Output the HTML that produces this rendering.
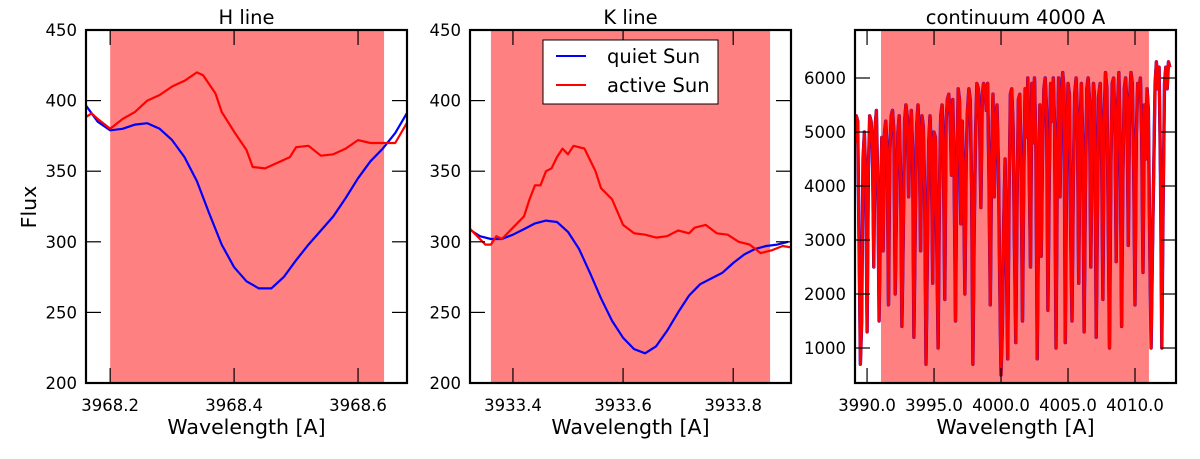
<!DOCTYPE html>
<html><head><meta charset="utf-8"><style>
body{margin:0;background:#fff;width:1200px;height:454px;overflow:hidden}
svg text{font-family:"DejaVu Sans","Liberation Sans",sans-serif;fill:#000}
</style></head><body>
<svg id="c" width="1200" height="454"></svg>
<script>
// H line data
const hQuietW=[3968.16,3968.18,3968.20,3968.22,3968.24,3968.26,3968.28,3968.30,3968.32,3968.34,3968.36,3968.38,3968.40,3968.42,3968.44,3968.46,3968.48,3968.50,3968.52,3968.54,3968.56,3968.58,3968.60,3968.62,3968.64,3968.66,3968.68];
const hQuietF=[397,385,379,380,383,384,380,372,360,343,320,298,282,272,267,267,275,287,298,308,318,331,345,357,366,377,392];
const hActiveW=[3968.16,3968.17,3968.18,3968.20,3968.22,3968.24,3968.26,3968.28,3968.30,3968.32,3968.34,3968.35,3968.37,3968.38,3968.40,3968.42,3968.43,3968.45,3968.47,3968.49,3968.50,3968.52,3968.54,3968.56,3968.58,3968.60,3968.62,3968.64,3968.66,3968.68];
const hActiveF=[388,391,387,380,387,392,400,404,410,414,420,418,405,392,378,365,353,352,356,360,367,368,361,362,366,372,370,370,370,385];
// K line data
const kQuietW=[3933.32,3933.34,3933.36,3933.38,3933.40,3933.42,3933.44,3933.46,3933.48,3933.50,3933.52,3933.54,3933.56,3933.58,3933.60,3933.62,3933.64,3933.66,3933.68,3933.70,3933.72,3933.74,3933.76,3933.78,3933.80,3933.82,3933.84,3933.86,3933.88,3933.90];
const kQuietF=[309,304,302,302,305,309,313,315,314,307,295,278,260,244,232,224,221,226,237,250,262,270,274,278,285,291,295,297,298,300];
const kActiveW=[3933.32,3933.33,3933.35,3933.36,3933.37,3933.38,3933.40,3933.42,3933.43,3933.44,3933.45,3933.46,3933.47,3933.48,3933.49,3933.50,3933.51,3933.53,3933.55,3933.56,3933.58,3933.60,3933.62,3933.64,3933.66,3933.68,3933.70,3933.72,3933.73,3933.75,3933.77,3933.79,3933.81,3933.83,3933.85,3933.87,3933.89,3933.905];
const kActiveF=[310,306,298,298,304,302,310,318,330,340,340,350,352,360,366,362,368,366,350,338,330,312,306,305,303,304,308,306,310,312,306,305,300,298,292,294,297,296];
// continuum data (grid start/step)
const contStart=3989.1, contStep=0.1;
const contFlux=[4800,5300,5200,3000,700,1500,4500,5000,4200,1300,4300,5300,5200,4700,2500,5100,5400,4000,1500,3500,4900,2800,5000,5200,4600,1800,4600,5300,5400,5000,2000,3600,5000,5300,4200,1400,3000,5200,5500,5300,3800,4900,5400,4700,1200,3300,5100,5500,4900,2800,5300,5100,3900,700,2600,4800,5300,4600,2200,5000,4900,3100,1000,3800,5300,5500,4500,1900,5200,5600,5700,5300,4200,5600,4300,1500,4200,5800,5600,3300,5200,4100,2000,4500,5400,5800,5600,4000,700,3200,5000,5900,5800,5200,3600,5700,5900,5800,5400,5900,4100,1800,4600,5700,3800,5200,5500,4400,2300,500,1400,3300,4500,2600,800,3900,5700,5800,5100,3000,1100,3800,5600,5700,4400,1500,4200,5800,4900,6000,4300,2500,5900,4800,6000,4700,800,3300,5500,2700,4700,5800,6000,5400,1700,4200,5900,5200,6000,5100,1000,4300,6000,3800,5600,6100,
5800,1100,4600,5900,5700,3100,1500,4200,5700,6000,5300,2200,5100,5900,4800,1300,3900,5800,6000,5600,2500,4700,5900,5600,1200,3600,5700,5900,4900,1900,5300,6100,5800,3400,1000,4400,5900,6000,5200,2600,5500,6100,4700,1400,4200,5800,6000,5500,2900,5600,6100,5900,4300,1800,4900,5900,5800,6000,4900,2400,
5500,4500,5800,5400,3000,1000,2700,4400,5900,6300,5800,6200,4200,1000,3600,5900,6200,5800,6300,6200];
const hTicks=["3968.2","3968.4","3968.6"], kTicks=["3933.4","3933.6","3933.8"], cTicks=["3990.0","3995.0","4000.0","4005.0","4010.0"];
const fluxTicks=[200,250,300,350,400,450], contYTicks=[1000,2000,3000,4000,5000,6000];

const NS="http://www.w3.org/2000/svg", svg=document.getElementById('c');
function mk(t,a,p){const e=document.createElementNS(NS,t);for(const k in a)e.setAttribute(k,a[k]);(p||svg).appendChild(e);return e;}
function panel(o){
  const g=mk('g',{});
  
  
  const X=v=>o.L+(v-o.x0)/(o.x1-o.x0)*(o.R-o.L), Y=v=>o.B-(v-o.y0)/(o.y1-o.y0)*(o.B-o.T);
  const sh=mk('rect',{x:X(o.s0),y:o.T,width:X(o.s1)-X(o.s0),height:o.B-o.T,fill:'#ff8080'},g);
  
  
  const cp=mk('clipPath',{id:'cp'+o.name},g);
  mk('rect',{x:o.L,y:o.T,width:o.R-o.L,height:o.B-o.T},cp);
  const line=(W,F,col,nm,w)=>{const p=mk('polyline',{points:W.map((x,i)=>X(x).toFixed(1)+','+Y(F[i]).toFixed(1)).join(' '),fill:'none',stroke:col,'stroke-width':w||2.2,'stroke-linejoin':'round','clip-path':'url(#cp'+o.name+')'},g);
    
    };
  o.series.forEach(s=>line(s[0],s[1],s[2],s[3],s[4]));
  o.xt.forEach(t=>{const x=X(parseFloat(t));
    mk('line',{x1:x,x2:x,y1:o.B,y2:o.B-15,stroke:'#000','stroke-width':1.2},g);
    mk('line',{x1:x,x2:x,y1:o.T,y2:o.T+15,stroke:'#000','stroke-width':1.2},g);
    const tx=mk('text',{x:x,y:o.B+28,'text-anchor':'middle','font-size':16.5},g);tx.textContent=t;
    
    });
  o.yt.forEach(v=>{const y=Y(v);
    mk('line',{x1:o.L,x2:o.L+15,y1:y,y2:y,stroke:'#000','stroke-width':1.2},g);
    mk('line',{x1:o.R,x2:o.R-15,y1:y,y2:y,stroke:'#000','stroke-width':1.2},g);
    const tx=mk('text',{x:o.L-9,y:y+6,'text-anchor':'end','font-size':16.5},g);tx.textContent=v;
    
    });
  mk('rect',{x:o.L,y:o.T,width:o.R-o.L,height:o.B-o.T,fill:'none',stroke:'#000','stroke-width':2.2},g);
  const ti=mk('text',{x:(o.L+o.R)/2,y:24,'text-anchor':'middle','font-size':19.5},g);ti.textContent=o.title;
  
  
  const xl=mk('text',{x:(o.L+o.R)/2,y:434,'text-anchor':'middle','font-size':20.5},g);xl.textContent='Wavelength [A]';
  
  
}
panel({name:'h-line-panel',title:'H line',L:86,R:407,T:30,B:383,x0:3968.161,x1:3968.679,y0:200,y1:450,s0:3968.2,s1:3968.642,
  xt:hTicks,yt:fluxTicks,series:[[hQuietW,hQuietF,'#0000ff','quiet-sun-line-h'],[hActiveW,hActiveF,'#ff0000','active-sun-line-h']]});
panel({name:'k-line-panel',title:'K line',L:470,R:791,T:30,B:383,x0:3933.322,x1:3933.905,y0:200,y1:450,s0:3933.36,s1:3933.867,
  xt:kTicks,yt:fluxTicks,series:[[kQuietW,kQuietF,'#0000ff','quiet-sun-line-k'],[kActiveW,kActiveF,'#ff0000','active-sun-line-k']]});
const contW=contFlux.map((_,i)=>contStart+i*contStep);
panel({name:'continuum-panel',title:'continuum 4000 A',L:855,R:1176,T:30,B:383,x0:3989.1,x1:4013.06,y0:352,y1:6889,s0:3991.04,s1:4011.04,
  xt:cTicks,yt:contYTicks,series:[[contW,contFlux,'#0000ff','quiet-sun-line-cont',3.4],[contW,contFlux,'#ff0000','active-sun-line-cont',3]]});
const fl=mk('text',{x:0,y:0,'text-anchor':'middle','font-size':20.5,transform:'translate(36,207) rotate(-90)'});fl.textContent='Flux';


const lg=mk('g',{});


mk('rect',{x:543,y:40,width:175,height:64,fill:'#fff',stroke:'#000','stroke-width':1},lg);
mk('line',{x1:556,x2:586,y1:56,y2:56,stroke:'#0000ff','stroke-width':2},lg);
mk('line',{x1:556,x2:586,y1:85,y2:85,stroke:'#ff0000','stroke-width':2},lg);
const l1=mk('text',{x:607,y:63,'font-size':19.5},lg);l1.textContent='quiet Sun';


const l2=mk('text',{x:607,y:92,'font-size':19.5},lg);l2.textContent='active Sun';


</script>
</body></html>
